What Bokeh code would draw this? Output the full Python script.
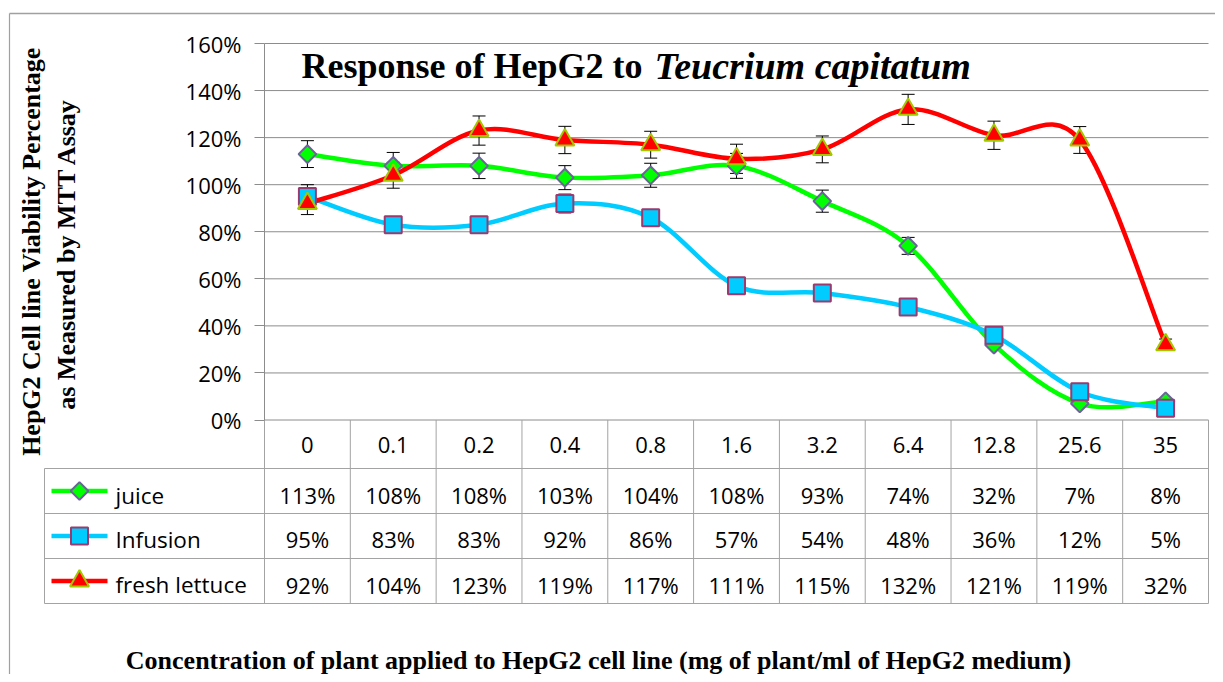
import math
from bokeh.plotting import figure
from bokeh.models import Range1d, LinearAxis, FixedTicker, PrintfTickFormatter
from bokeh.core.properties import value
from bokeh.embed import file_html
from bokeh.resources import INLINE

# ---------------- data ----------------
categories = ["0", "0.1", "0.2", "0.4", "0.8", "1.6", "3.2", "6.4", "12.8", "25.6", "35"]
juice = [113, 108, 108, 103, 104, 108, 93, 74, 32, 7, 8]
infusion = [95, 83, 83, 92, 86, 57, 54, 48, 36, 12, 5]
lettuce = [92, 104, 123, 119, 117, 111, 115, 132, 121, 119, 32]
juice_err = [5.7, 5.7, 5.4, 5.1, 5.1, 5.3, 4.7, 3.6, 0, 0, 0]
infusion_err = [5.0, 0, 0, 4.0, 0, 0, 0, 0, 0, 0, 0]
lettuce_err = [4.7, 5.5, 6.2, 5.8, 5.7, 6.2, 5.7, 6.4, 6.0, 5.7, 2.4]
series_names = ["juice", "Infusion", "fresh lettuce"]
y_ticks = [0, 20, 40, 60, 80, 100, 120, 140, 160]
title_main = "Response of HepG2 to"
title_species = "Teucrium capitatum"
y_title_1 = "HepG2 Cell line Viability Percentage"
y_title_2 = "as Measured by MTT Assay"
x_title = "Concentration of plant applied to HepG2 cell line (mg of plant/ml of HepG2 medium)"

# ---------------- layout (picture pixels) ----------------
W, H = 1215, 674
ORIGIN = 0
PLOT_L, PLOT_R = 264, 1208
Y0_PX, YTOP_PX = 419.5, 43
N = len(categories)
col_w = (PLOT_R - PLOT_L) / N
ppu = (Y0_PX - YTOP_PX) / y_ticks[-1]


def dx(px):
    return (px - PLOT_L) / col_w - 0.5


def dy(py):
    return (Y0_PX - py) / ppu


p = figure(width=W, height=H, output_backend="svg", toolbar_location=None,
           x_range=Range1d(dx(ORIGIN), dx(ORIGIN + W)),
           y_range=Range1d(dy(ORIGIN + H), dy(ORIGIN)),
           x_axis_location=None, y_axis_location=None,
           min_border=0, min_border_left=0, min_border_right=0,
           min_border_top=0, min_border_bottom=0)
p.outline_line_color = None
p.background_fill_color = "white"
p.border_fill_color = "white"
p.xgrid.visible = False
p.ygrid.visible = False

GRID = "#8C8C8C"
TABLE = "#A3A3A3"
FONT = value("Open Sans")
SERIF = value("Liberation Serif")

# outer chart border
p.segment(x0=[dx(9)], y0=[dy(13)], x1=[dx(1223)], y1=[dy(13)], line_color="#A0A0A0", line_width=1.5)
p.segment(x0=[dx(9)], y0=[dy(13)], x1=[dx(9)], y1=[dy(682)], line_color="#A0A0A0", line_width=1.2)

# y axis (ticks + labels) fixed at the left edge of the category area
yaxis = LinearAxis(fixed_location=-0.5, ticker=FixedTicker(ticks=y_ticks),
                   formatter=PrintfTickFormatter(format="%d%%"))
yaxis.axis_line_color = None
yaxis.major_tick_line_color = GRID
yaxis.major_tick_out = 10
yaxis.major_tick_in = 0
yaxis.minor_tick_line_color = None
yaxis.major_label_standoff = 13
yaxis.major_label_text_font = "Open Sans"
yaxis.major_label_text_font_size = "22px"
yaxis.major_label_text_color = "black"
p.add_layout(yaxis, "left")

# horizontal grid lines
p.segment(x0=[-0.5] * len(y_ticks), x1=[N - 0.5] * len(y_ticks), y0=y_ticks, y1=y_ticks,
          line_color=GRID, line_width=1)

# data table grid
row_edges_px = [468, 513, 558, 603]
vx = [k - 0.5 for k in range(N + 1)]
p.segment(x0=vx, x1=vx, y0=[dy(603)] * len(vx), y1=[0] * len(vx), line_color=TABLE, line_width=1)
p.segment(x0=[-0.5], x1=[-0.5], y0=[0], y1=[y_ticks[-1]], line_color=GRID, line_width=1)
p.segment(x0=[dx(44)], x1=[dx(44)], y0=[dy(468)], y1=[dy(603)], line_color=TABLE, line_width=1)
p.segment(x0=[dx(44)] * 4, x1=[N - 0.5] * 4, y0=[dy(v) for v in row_edges_px],
          y1=[dy(v) for v in row_edges_px], line_color=TABLE, line_width=1)

xs = list(range(N))


def smooth(xv, yv):
    n = len(xv)
    pts = list(zip(xv, yv))
    out = {k: [] for k in ("x0", "y0", "x1", "y1", "cx0", "cy0", "cx1", "cy1")}
    for i in range(n - 1):
        p0 = pts[i - 1] if i > 0 else pts[i]
        p1 = pts[i]
        p2 = pts[i + 1]
        p3 = pts[i + 2] if i + 2 < n else pts[i + 1]
        out["x0"].append(p1[0]); out["y0"].append(p1[1])
        out["x1"].append(p2[0]); out["y1"].append(p2[1])
        out["cx0"].append(p1[0] + (p2[0] - p0[0]) / 6)
        out["cy0"].append(p1[1] + (p2[1] - p0[1]) / 6)
        out["cx1"].append(p2[0] - (p3[0] - p1[0]) / 6)
        out["cy1"].append(p2[1] - (p3[1] - p1[1]) / 6)
    return out


styles = [
    dict(vals=juice, err=juice_err, line="#00FF00", marker="square", angle=math.pi / 4, size=12.5,
         fill="#00FF00", edge="#6E629C"),
    dict(vals=infusion, err=infusion_err, line="#00CCFF", marker="square", angle=0, size=17,
         fill="#00CCFF", edge="#9B3A6E"),
    dict(vals=lettuce, err=lettuce_err, line="#FF0000", marker="triangle", angle=0, size=19,
         fill="#FF0000", edge="#A2C800"),
]

for s in styles:
    b = smooth(xs, s["vals"])
    p.bezier(line_color=s["line"], line_width=4.5, line_cap="round", **b)

cap = 6.5 / col_w
for s in styles:
    ex = [x for x, e in zip(xs, s["err"]) if e > 0]
    lo = [v - e for v, e in zip(s["vals"], s["err"]) if e > 0]
    hi = [v + e for v, e in zip(s["vals"], s["err"]) if e > 0]
    p.segment(x0=ex, x1=ex, y0=lo, y1=hi, line_color="black", line_width=1)
    p.segment(x0=[x - cap for x in ex], x1=[x + cap for x in ex], y0=lo, y1=lo, line_color="black", line_width=1)
    p.segment(x0=[x - cap for x in ex], x1=[x + cap for x in ex], y0=hi, y1=hi, line_color="black", line_width=1)

for s in styles:
    p.scatter(xs, s["vals"], marker=s["marker"], angle=s["angle"], size=s["size"],
              fill_color=s["fill"], line_color=s["edge"], line_width=2)

# table: header categories
p.text(x=xs, y=[dy(444.5)] * N, text=categories, text_font=FONT, text_font_size="22px",
       text_align="center", text_baseline="middle", text_color="black")

row_center_px = [494.5, 538.5, 584]
row_mid_px = [490.5, 535.5, 580.5]
for s, name, cen, mid in zip(styles, series_names, row_center_px, row_mid_px):
    p.text(x=xs, y=[dy(cen)] * N, text=[f"{v}%" for v in s["vals"]], text_font=FONT,
           text_font_size="22px", text_align="center", text_baseline="middle", text_color="black")
    p.text(x=[dx(115)], y=[dy(cen)], text=[name], text_font=FONT, text_font_size="22.5px",
           text_align="left", text_baseline="middle", text_color="black")
    p.segment(x0=[dx(51)], x1=[dx(107)], y0=[dy(mid)], y1=[dy(mid)], line_color=s["line"], line_width=4.5)
    p.scatter([dx(79)], [dy(mid)], marker=s["marker"], angle=s["angle"], size=s["size"],
              fill_color=s["fill"], line_color=s["edge"], line_width=2)

# titles
p.text(x=[dx(642)], y=[dy(65)], text=[title_main], text_font=SERIF, text_font_size="36px",
       text_font_style="bold", text_align="right", text_baseline="middle", text_color="black")
p.text(x=[dx(654)], y=[dy(65)], text=[title_species], text_font=SERIF, text_font_size="38px",
       text_font_style="bold italic", text_align="left", text_baseline="middle", text_color="black")
p.text(x=[dx(598)], y=[dy(660)], text=[x_title], text_font=SERIF, text_font_size="26px",
       text_font_style="bold", text_align="center", text_baseline="middle", text_color="black")
p.text(x=[dx(31)], y=[dy(251)], text=[y_title_1], text_font=SERIF, text_font_size="26px",
       text_font_style="bold", text_align="center", text_baseline="middle", angle=math.pi / 2,
       text_color="black")
p.text(x=[dx(66)], y=[dy(253.5)], text=[y_title_2], text_font=SERIF, text_font_size="26px",
       text_font_style="bold", text_align="center", text_baseline="middle", angle=math.pi / 2,
       text_color="black")

open("out.html", "w").write(file_html(p, INLINE))
